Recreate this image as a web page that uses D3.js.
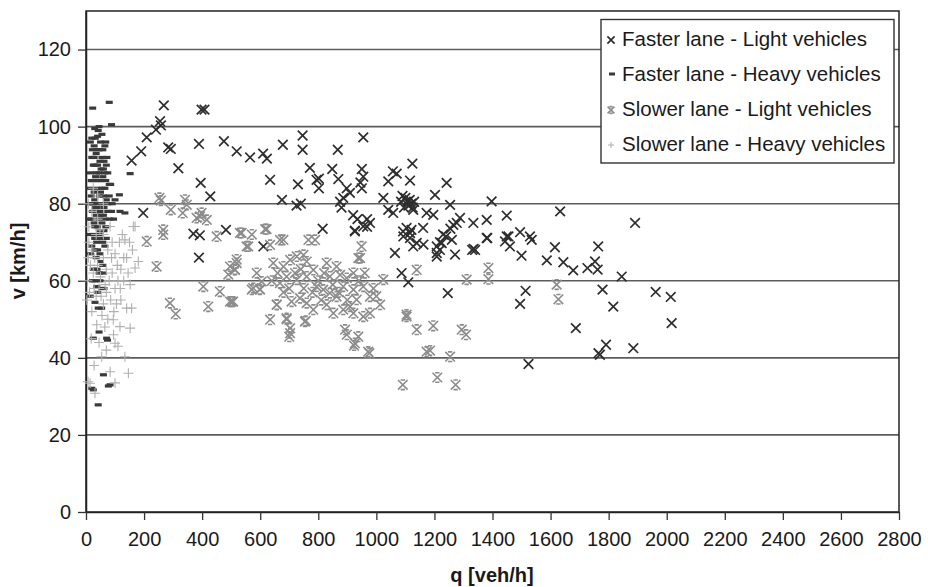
<!DOCTYPE html>
<html>
<head>
<meta charset="utf-8">
<script src="https://cdn.jsdelivr.net/npm/d3@7/dist/d3.min.js"></script>
<style>
html,body{margin:0;padding:0;background:#fff;}
svg{display:block;font-family:"Liberation Sans",Arial,Helvetica,sans-serif;}
</style>
</head>
<body>
<div id="chart"></div>
<script>
// ---- Data (q [veh/h], v [km/h]) ----
const seriesNames = ["Faster lane - Light vehicles","Faster lane - Heavy vehicles","Slower lane - Light vehicles","Slower lane - Heavy vehicles"];
const xTicks = [0,200,400,600,800,1000,1200,1400,1600,1800,2000,2200,2400,2600,2800];
const yTicks = [0,20,40,60,80,100,120];

const fasterLight = [
[268,105.5],[398,104.4],[408,104.4],[255,101.4],[258,100.3],[241,99.2],[209,97.2],[190,93.6],[157,91.2],
[283,94.6],[292,94.2],[389,95.5],[475,96.2],[519,93.6],[318,89.2],[395,85.4],[428,81.9],[197,77.6],[389,66],
[565,92],[610,93],[623,91.7],[634,86.2],[678,95.3],[675,81],[746,97.7],[746,94],[730,85],[725,79.5],[740,80],
[771,89.3],[794,86.2],[370,72.2],[392,71.8],[482,73.2],[611,68.9],
[867,94],[802,86.5],[802,84],[848,89],[869,86.4],[950,89],[955,87],[945,85.5],[950,84],[898,84],[909,82.8],
[955,97.2],[1057,88.4],[1070,87.8],[1124,90.4],[1116,86],[1041,85.8],[1242,85.4],[1202,82.3],
[1090,82],[1100,81.5],[1105,80.5],[1115,81],[1120,80],[1110,79.5],[1095,79],[1125,79],[1130,80.5],[1085,80.5],
[875,80.5],[886,81.5],[880,79],[920,77],[935,76],[968,76],[926,73],[968,74],[815,73.5],[926,72.8],[955,74.1],[978,75],
[1064,67.2],[1092,72.8],[1116,72.4],[1161,73.7],[1139,69.8],[1162,69.4],[1208,67.2],
[1219,70],[1230,72],[1240,71.5],[1255,73.5],[1260,70.6],[1265,74.5],[1277,75],[1288,76.3],
[1334,75],[1330,68],[1335,68.3],[1340,68],[1380,75.8],[1380,71.1],[1397,80.6],[1449,76.9],[1449,71.5],
[1460,68.9],[1443,70.2],[1495,72.6],[1500,66.5],[1529,71.5],[1535,70.6],[1587,65.3],[1615,68.7],[1633,78],
[1644,64.8],[1678,62.7],[1727,63.3],[1753,65],[1762,62.9],[1764,68.9],
[1087,62],[1110,59.6],[1246,56.8],[1514,57.4],[1495,54],[1687,47.7],[1779,57.7],[1816,53.3],[1524,38.4],
[1765,41.2],[1791,43.4],[1891,75],[1845,61.1],[1962,57.1],[2014,55.8],[2017,49],[1885,42.5],[1770,40.8],
[1024,81.5],[1041,78.4],[1058,77.6],[1127,78.4],[1173,77.6],[1196,77.1],[1254,79.7],[1104,73.7],[1121,73.2],
[1093,71.5],[1116,71.1],[1127,68.9],[1208,68.9],[1225,69.8],[1219,68],[1271,66.8],[1208,66.3],[1382,71.1],[1455,71.5]
];

const fasterHeavy = [
[23,104.8],[80,106.3],[88,100.5],[152,87.8],[115,82.3],[100,81],[117,78],[134,77.6],
[20,97],[28,95],[35,93],[42,99],[50,96],[55,92],[30,90],[45,88],[60,89],[25,86],[38,84],[52,86],[65,84],
[18,82],[30,81],[42,80],[55,80],[70,81],[80,82],[22,78],[35,77],[48,78],[60,77],[75,78],[28,75],[40,74],
[55,75],[68,74],[45,72],[30,71],[58,70],[20,69],[40,68],[65,69],[35,66],[50,65],[25,63],[45,62],[60,62],
[30,60],[55,58],[37,58.5],[31,54.4],[42,52.9],[54,52.9],[45,46.7],[25,45.1],[71,45.1],[74,44.6],
[60,35.6],[83,33],[25,31.7],[42,27.8],[20,32.1],[77,32.7],
[40,97.5],[55,98],[65,95],[35,94],[48,91],[62,91],[72,92],[58,87],[75,88],[85,85],[90,80],[95,76],
[68,96],[30,99.5],[45,100],[20,92],[15,88],[12,80],[10,76],[15,72],[33,87],[50,83],[62,79],[38,79],[25,90],
[15,96],[22,94],[32,97],[46,94],[58,94],[70,90],[28,92],[40,90],[52,89],[18,86],[42,86],[68,86],[80,85],
[12,84],[28,83],[46,82],[60,82],[75,80],[88,78],[20,80],[32,79],[50,77],[66,76],[82,76],[18,76],[30,74],
[48,73],[62,73],[25,72],[52,71],[70,71],[15,67],[30,68],[48,67],[58,64],[38,63],[22,60],[48,60],[62,58],
[15,56],[40,57],[36,88],[26,80],[56,84],[44,76],[36,70],[64,88]
];

const slowerLight = [
[253,81.5],[258,80.8],[292,78.4],[341,81],[347,79.7],[333,77.6],[381,76.3],[393,76.7],[398,77.6],[416,75.8],
[266,73.2],[266,72],[209,70.2],[243,63.7],[450,71.5],[536,72.4],[571,72],[553,68.9],[617,73.4],[680,70.6],
[496,63.7],[519,64.6],[519,65.5],[404,58.5],[421,53.3],[461,57.2],[496,54.6],[507,54.6],[289,54.2],[309,51.4],
[490,61.6],[513,62.9],[576,58.1],[599,57.8],[634,49.9],[657,53.8],[691,50],[703,46.4],[700,45.5],[754,49.4],[757,49.6],
[530,72.4],[622,73.4],[559,68.9],[634,69.3],[668,70.6],[766,70.6],[789,70.6],[944,65.9],[513,62.8],[588,62],
[605,59.8],[645,64.6],[680,63.7],[703,65.4],[726,66.3],[749,66.7],[691,61.1],[668,59.4],[726,60.3],[760,61.1],
[783,62.8],[829,64.6],[863,63.7],[840,61.1],[875,61.5],[898,60.7],[921,62],[794,58.5],[817,57.7],[840,56.8],
[863,55.9],[886,58.5],[921,57.7],[955,58.5],[978,55.9],[1013,53.8],[932,55.1],[909,53.3],[886,52.5],[852,51.6],
[955,50.7],[921,51.6],[760,54.2],[708,54.6],[737,55.5],[657,53.8],[691,50.3],[703,47.7],[892,47.3],[898,46],
[938,45.5],[923,43.2],[976,41.2],[1024,60.3],[1139,62.8],[1104,50.7],[1139,47.3],[1173,41.6],[502,54.6],
[571,57.7],[599,57.7],[829,53.8],[783,52.5],[949,68.9],[938,65.9],[1386,63.3],[1386,60.4],[1621,59],[1627,55.2],
[1104,51.2],[1196,48.3],[1294,47.3],[1309,46],[1185,41.9],[1254,40.3],[1091,33],[1210,34.9],[1273,33],
[972,41.6],[978,51.6],[926,43.8],[1311,60.3],[740,63],[760,65],[800,60],[820,62],[850,59],[780,57],[810,55],
[750,58],[720,62],[700,58],[870,57],[900,55],[940,60],[960,62],[990,58],[1000,56],[660,62],[640,60],[680,57]
];

const slowerHeavy = [
[163,74.1],[169,74.1],[134,70.6],[48,73.2],[83,74.1],[169,63.3],[152,59],[140,52.9],[157,52.9],[94,49.9],
[117,48.1],[152,47.7],[54,40.3],[134,40.3],[146,36],[83,36.4],[14,33.4],[31,30.8],[100,43.8],[65,48],[37,48.6],
[7,33.8],[100,33.5],[10,70],[20,68],[30,66],[15,64],[25,62],[40,64],[50,61],[60,66],[70,63],[80,60],[90,62],
[100,58],[110,60],[120,63],[130,66],[100,67],[115,70],[125,72],[90,70],[75,68],[60,72],[40,76],[20,78],[10,74],
[5,60],[12,57],[35,56],[45,58],[70,57],[85,55],[105,54],[20,52],[55,51],[75,50],[95,46],[110,43],[130,60],
[145,62],[160,68],[180,65],[150,70],[25,84],[40,82],[60,80],[35,72],[8,66],[3,55],[18,45],[28,38],[70,42],
[120,55],[60,54],[45,44],[8,80],[88,66],[108,64],[66,59],[52,56],[28,58],[140,66],[118,58],[96,52]
];

// ---- Layout ----
const W = 928, H = 587;
const x = d3.scaleLinear().domain([0, 2800]).range([86, 899]);
const y = d3.scaleLinear().domain([0, 130]).range([512, 11]);

const svg = d3.select("#chart").append("svg").attr("width", W).attr("height", H);

// gridlines
svg.append("g").selectAll("line").data(yTicks.filter(d => d > 0)).join("line")
  .attr("x1", x(0)).attr("x2", x(2800))
  .attr("y1", d => y(d)).attr("y2", d => y(d))
  .attr("stroke", "#5c5c5c").attr("stroke-width", 1.6);

// frame top/right
svg.append("rect").attr("x", x(0)).attr("y", y(130)).attr("width", x(2800) - x(0)).attr("height", y(0) - y(130))
  .attr("fill", "none").attr("stroke", "#222").attr("stroke-width", 1.5);

// axes
const yAxis = d3.axisLeft(y).tickValues(yTicks).tickSizeInner(8).tickSizeOuter(0).tickPadding(7).tickFormat(d3.format("d"));
const xAxis = d3.axisBottom(x).tickValues(xTicks).tickSizeInner(8).tickSizeOuter(0).tickPadding(12).tickFormat(d3.format("d"));
const gy = svg.append("g").attr("transform", `translate(${x(0)},0)`).call(yAxis);
const gx = svg.append("g").attr("transform", `translate(0,${y(0)})`).call(xAxis);
[gx, gy].forEach(g => {
  g.select(".domain").attr("stroke", "#222").attr("stroke-width", 1.5);
  g.selectAll(".tick line").attr("stroke", "#333").attr("stroke-width", 1.3);
  g.selectAll(".tick text").attr("fill", "#1a1a1a").style("font-size", "20px")
   .style("font-family", '"Liberation Sans",Arial,sans-serif');
});

// axis titles
svg.append("text").attr("x", 492).attr("y", 582).attr("text-anchor", "middle")
  .style("font-size", "20px").style("font-weight", "bold").attr("fill", "#1a1a1a").text("q [veh/h]");
svg.append("text").attr("transform", "translate(25,261) rotate(-90)").attr("text-anchor", "middle")
  .style("font-size", "20px").style("font-weight", "bold").attr("fill", "#1a1a1a").text("v [km/h]");

// marker paths
function crossPath(s){ return `M${-s},${-s}L${s},${s}M${-s},${s}L${s},${-s}`; }
function starPath(s){ const c = s*0.45; return `M${-s},${-s}L${s},${s}M${-s},${s}L${s},${-s}M${-c},${-s}H${c}M${-c},${s}H${c}`; }
function plusPath(s){ return `M${-s},0H${s}M0,${-s}V${s}`; }

const styles = [
  {data: fasterLight, path: crossPath(4.8), stroke: "#2e2e2e", sw: 1.7, legendPath: crossPath(3.6)},
  {data: fasterHeavy, rect: true, fill: "#3a3a3a"},
  {data: slowerLight, path: starPath(4.8), stroke: "#8c8c8c", sw: 1.6, legendPath: starPath(3.4)},
  {data: slowerHeavy, path: plusPath(5), stroke: "#b0b0b0", sw: 1.1, legendPath: plusPath(3)}
];

styles.forEach((st, i) => {
  const g = svg.append("g").attr("class", "series-" + i);
  if (st.rect) {
    g.selectAll("rect").data(st.data).join("rect")
      .attr("x", d => x(d[0]) - 3.5).attr("y", d => y(d[1]) - 1.6)
      .attr("width", 7).attr("height", 3.2).attr("fill", st.fill);
  } else {
    g.selectAll("path").data(st.data).join("path")
      .attr("transform", d => `translate(${x(d[0])},${y(d[1])})`)
      .attr("d", st.path).attr("fill", "none")
      .attr("stroke", st.stroke).attr("stroke-width", st.sw);
  }
});

// legend
const lg = svg.append("g");
lg.append("rect").attr("x", 601).attr("y", 19.5).attr("width", 293).attr("height", 143.5)
  .attr("fill", "#fff").attr("stroke", "#333").attr("stroke-width", 1.4);
seriesNames.forEach((name, i) => {
  const cy = 39 + i * 35;
  const st = styles[i];
  if (st.rect) {
    lg.append("rect").attr("x", 609).attr("y", cy - 1.5).attr("width", 6).attr("height", 3).attr("fill", st.fill);
  } else {
    lg.append("path").attr("transform", `translate(611,${cy + 1})`).attr("d", st.legendPath)
      .attr("fill", "none").attr("stroke", st.stroke).attr("stroke-width", st.sw);
  }
  lg.append("text").attr("x", 622).attr("y", cy + 7).style("font-size", "20.5px").attr("fill", "#1a1a1a").text(name);
});
</script>
</body>
</html>
